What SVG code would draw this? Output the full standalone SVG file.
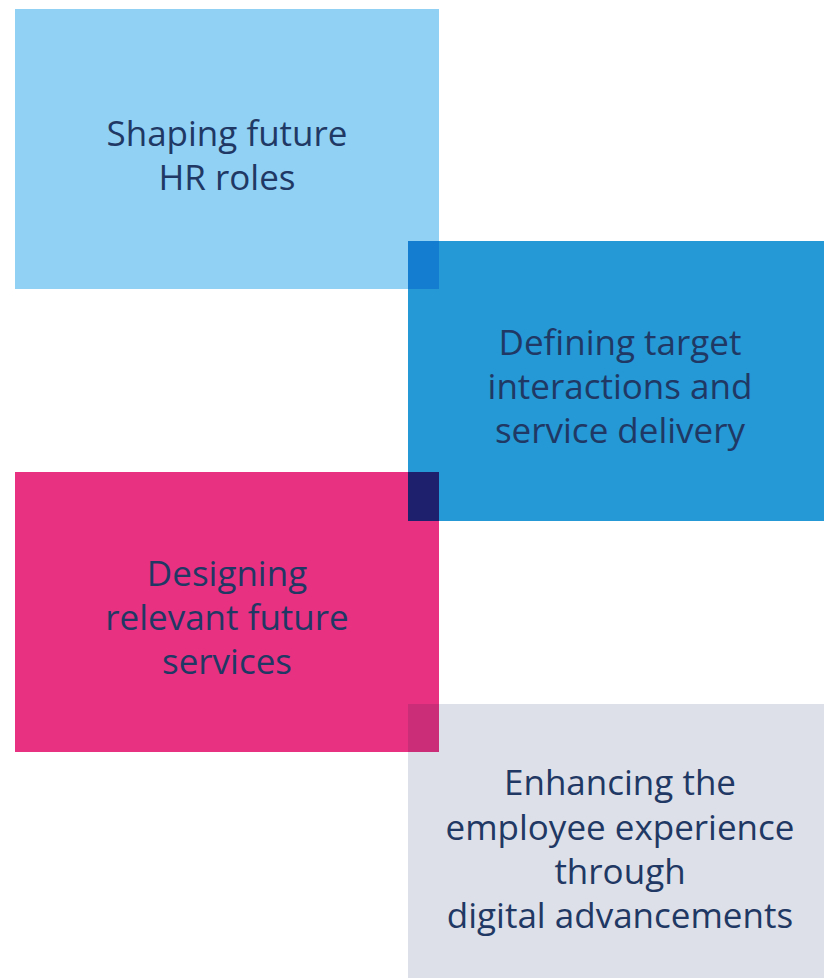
<svg xmlns="http://www.w3.org/2000/svg" width="824" height="978" viewBox="0 0 824 978">
  <style>
    .label { font-family: "Open Sans", "Noto Sans", sans-serif; font-size: 35px; fill: #1f3864; text-anchor: middle; }
  </style>
  <rect width="824" height="978" fill="#ffffff"/>
  <g id="connectors"/>
  <g id="node-hr-roles">
    <rect x="15" y="9" width="424" height="280" fill="#90d1f4"/>
    <text class="label"><tspan x="227" y="146">Shaping future</tspan><tspan x="227" y="190">HR roles</tspan></text>
  </g>
  <g id="node-interactions">
    <rect x="408" y="241" width="416" height="280" fill="#2598d6"/>
    <rect x="408" y="241" width="31" height="48" fill="#157dcf"/>
    <text class="label"><tspan x="620" y="355">Defining target</tspan><tspan x="620" y="399">interactions and</tspan><tspan x="620" y="443">service delivery</tspan></text>
  </g>
  <g id="node-services">
    <rect x="15" y="472" width="424" height="280" fill="#e83181"/>
    <rect x="408" y="472" width="31" height="49" fill="#1e1f6d"/>
    <text class="label"><tspan x="227" y="586">Designing</tspan><tspan x="227" y="630">relevant future</tspan><tspan x="227" y="674">services</tspan></text>
  </g>
  <g id="node-experience">
    <rect x="408" y="704" width="416" height="274" fill="#dde0e8"/>
    <rect x="408" y="704" width="31" height="48" fill="#cb2d79"/>
    <text class="label"><tspan x="620" y="795">Enhancing the</tspan><tspan x="620" y="840">employee experience</tspan><tspan x="620" y="884">through</tspan><tspan x="620" y="928">digital advancements</tspan></text>
  </g>
</svg>
